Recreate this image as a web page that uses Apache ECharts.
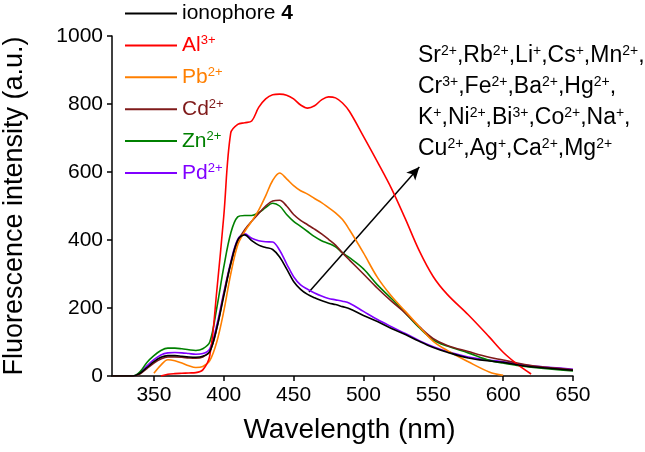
<!DOCTYPE html>
<html>
<head>
<meta charset="utf-8">
<script src="https://cdn.jsdelivr.net/npm/echarts@6/dist/echarts.min.js"></script>
<style>html,body{margin:0;padding:0;background:#fff;}</style>
</head>
<body>
<div id="chart" style="width:645px;height:452px;"></div>
<script>
// wavelength grid (nm)
const wavelength = [320,335,340,345,350,355,360,365,370,375,380,385,390,395,400,405,410,415,420,425,430,435,440,445,450,455,460,465,470,475,480,485,490,500,510,520,530,540,550,560,575,590,600,610,620,635,650];

const ionophore4 = [0,0,8,25,42,55,60,60,58,56,55,58,72,140,235,330,400,415,398,385,378,372,350,315,278,255,240,230,222,215,210,204,198,178,160,140,122,102,84,70,53,44,40,33,27,22,17];
const al = [null,null,null,null,null,0,5,7,8,9,10,18,60,250,470,715,740,745,750,790,815,827,829,826,815,797,788,795,812,821,818,803,778,705,630,552,462,368,292,240,180,115,70,35,6,null,null];
const pb = [null,null,null,null,8,32,48,45,38,30,25,28,45,100,190,300,385,425,455,488,530,575,597,580,560,545,535,522,510,495,480,460,430,362,290,235,190,145,102,75,42,12,2,null,null,null,null];
const cd = [0,0,6,22,38,50,56,56,55,53,52,56,72,140,240,330,395,430,455,478,500,515,517,500,475,458,445,432,418,402,385,362,341,300,258,220,185,145,110,90,72,55,47,38,31,24,18];
const zn = [0,0,12,40,60,75,82,82,80,77,75,80,100,200,320,420,468,472,472,480,495,508,500,475,455,440,425,410,398,390,380,362,348,315,268,228,185,142,106,88,68,46,38,31,26,20,15];
const pd = [0,0,10,30,48,62,68,69,68,66,64,66,80,150,245,335,402,418,405,398,395,394,370,330,292,268,255,244,235,228,224,220,214,190,166,145,125,104,86,72,56,47,42,36,30,25,20];

const xTicks = [350,400,450,500,550,600,650];
const seriesNames = ['ionophore 4','Al3+','Pb2+','Cd2+','Zn2+','Pd2+'];
const seriesColors = ['#000000','#ff0000','#ff7f00','#7f1a1a','#008000','#8000ff'];
const seriesValues = [ionophore4, al, pb, cd, zn, pd];

// arrow from the curves to the ion list (data coords)
const arrowFrom = [461, 247];
const arrowTo = [540, 615];

const ionLines = [
  'Sr^2+,Rb^2+,Li^+,Cs^+,Mn^2+,',
  'Cr^3+,Fe^2+,Ba^2+,Hg^2+,',
  'K^+,Ni^2+,Bi^3+,Co^2+,Na^+,',
  'Cu^2+,Ag^+,Ca^2+,Mg^2+'
];

const FONT = 'Liberation Sans, Arial, sans-serif';

function pairs(vals) {
  const out = [];
  vals.forEach((v, i) => { if (v !== null) out.push([wavelength[i], v]); });
  return out;
}

function ionRich(line) {
  // "Sr^2+,Rb^2+" -> rich tokens
  return line.split(',').map(p => {
    if (!p) return '';
    const m = p.split('^');
    return '{n|' + m[0] + '}' + (m[1] ? '{s|' + m[1] + '}' : '');
  }).join('{n|,}');
}

let myChart = echarts.init(document.getElementById('chart'));

myChart.setOption({
  animation: false,
  backgroundColor: '#fff',
  grid: { left: 112, right: 72, top: 36, bottom: 76, containLabel: false, outerBoundsMode: 'none' },
  legend: {
    orient: 'vertical',
    left: 125,
    top: 2,
    padding: [1, 5, 5, 0],
    icon: 'rect',
    itemWidth: 52,
    itemHeight: 2,
    itemGap: 10.4,
    data: seriesNames.map((n, i) => ({ name: n, textStyle: { color: seriesColors[i] } })),
    formatter: function (name) {
      if (name === 'ionophore 4') return '{n|ionophore }{b|4}';
      return name.replace(/^([A-Za-z]+)(.*)$/, '{n|$1}{s|$2}');
    },
    textStyle: {
      fontFamily: FONT,
      rich: {
        n: { fontSize: 21, lineHeight: 24, fontFamily: FONT },
        b: { fontSize: 21, lineHeight: 24, fontWeight: 'bold', fontFamily: FONT },
        s: { fontSize: 13, padding: [0, 0, 9, 0], fontFamily: FONT }
      }
    }
  },
  xAxis: {
    type: 'value',
    min: 320,
    max: 650,
    name: 'Wavelength (nm)',
    nameLocation: 'middle',
    nameGap: 40,
    nameTextStyle: { fontSize: 28, fontFamily: FONT, color: '#000', padding: [0, 0, 0, 14] },
    splitLine: { show: false },
    axisLine: { lineStyle: { color: '#000', width: 1.5 } },
    axisTick: { show: true, length: 5, inside: false, customValues: xTicks, lineStyle: { color: '#000', width: 1.5 } },
    axisLabel: { customValues: xTicks, fontSize: 21, fontFamily: FONT, color: '#000', margin: 9 }
  },
  yAxis: {
    type: 'value',
    min: 0,
    max: 1000,
    interval: 200,
    name: 'Fluorescence intensity (a.u.)',
    nameLocation: 'middle',
    nameGap: 84,
    nameTextStyle: { fontSize: 27, fontFamily: FONT, color: '#000' },
    splitLine: { show: false },
    axisLine: { show: true, lineStyle: { color: '#000', width: 1.5 } },
    axisTick: { show: true, length: 5, inside: false, lineStyle: { color: '#000', width: 1.5 } },
    axisLabel: { fontSize: 21, fontFamily: FONT, color: '#000', margin: 9, formatter: v => String(v) }
  },
  graphic: [{
    type: 'text',
    left: 418,
    top: 44,
    style: {
      text: ionLines.map(ionRich).join('\n'),
      fill: '#000',
      rich: {
        n: { fontSize: 23, lineHeight: 31, fontFamily: FONT, fill: '#000' },
        s: { fontSize: 14, padding: [0, 0, 10, 0], fontFamily: FONT, fill: '#000' }
      }
    }
  }],
  series: seriesValues.map((vals, i) => {
    const s = {
      name: seriesNames[i],
      type: 'line',
      data: pairs(vals),
      smooth: 0.35,
      symbol: 'none',
      z: 10 - i,
      lineStyle: { color: seriesColors[i], width: 1.6 },
      itemStyle: { color: seriesColors[i] }
    };
    if (i === 0) {
      s.markLine = {
        silent: true,
        symbol: ['none', 'arrow'],
        symbolSize: [9, 13],
        label: { show: false },
        lineStyle: { color: '#000', width: 1.5, type: 'solid' },
        data: [[{ coord: arrowFrom }, { coord: arrowTo }]]
      };
    }
    return s;
  })
});
</script>
</body>
</html>
